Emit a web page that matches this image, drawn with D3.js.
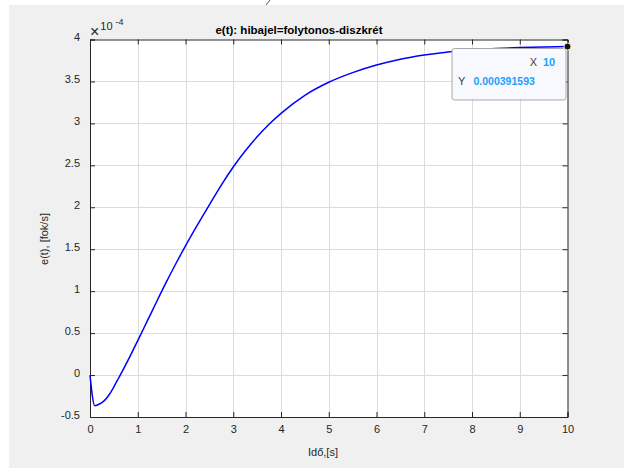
<!DOCTYPE html>
<html>
<head>
<meta charset="utf-8">
<script src="https://cdn.jsdelivr.net/npm/d3@7"></script>
<style>
html,body{margin:0;padding:0;background:#fff;}
svg{display:block;}
text{font-family:"Liberation Sans",Arial,Helvetica,sans-serif;}
</style>
</head>
<body>
<script>
// Data (values in units of 1e-4)
const timeValues = [0, 0.1, 0.2, 0.3, 0.4, 0.5, 0.6, 0.7, 0.8, 0.9, 1.0, 1.2, 1.4, 1.6, 1.8, 2.0, 2.25, 2.5, 2.75, 3.0, 3.25, 3.5, 3.75, 4.0, 4.5, 5.0, 5.5, 6.0, 6.5, 7.0, 7.5, 8.0, 8.5, 9.0, 9.5, 10];
const errorValues = [0, -0.365, -0.345, -0.305, -0.235, -0.14, -0.035, 0.07, 0.18, 0.295, 0.41, 0.645, 0.88, 1.11, 1.33, 1.54, 1.79, 2.03, 2.265, 2.48, 2.67, 2.84, 2.99, 3.12, 3.335, 3.49, 3.605, 3.695, 3.765, 3.815, 3.852, 3.876, 3.893, 3.904, 3.911, 3.91593];
const xTicks = [0,1,2,3,4,5,6,7,8,9,10];
const yTicks = [-0.5,0,0.5,1,1.5,2,2.5,3,3.5,4];
const yTickLabels = ["-0.5","0","0.5","1","1.5","2","2.5","3","3.5","4"];
const titleText = "e(t): hibajel=folytonos-diszkrét";
const xLabelText = "Idő,[s]";
const yLabelText = "e(t), [fok/s]";
const tipX = "10";
const tipY = "0.000391593";

const W = 624, H = 468;
const L = 90, R = 567.5, T = 39.5, B = 417;

const svg = d3.select("body").append("svg").attr("width", W).attr("height", H);
svg.append("rect").attr("x", 9).attr("y", 5).attr("width", W - 9).attr("height", H - 5).attr("fill", "#f0f0f0");

const x = d3.scaleLinear().domain([0, 10]).range([L, R]);
const y = d3.scaleLinear().domain([-0.5, 4]).range([B, T]);

// plot area
svg.append("rect").attr("x", L).attr("y", T).attr("width", R - L).attr("height", B - T).attr("fill", "#fff");

// grid
const grid = svg.append("g");
grid.selectAll(".gx").data(xTicks.slice(1, -1)).enter().append("line")
  .attr("x1", d => Math.round(x(d)) + 0.5).attr("x2", d => Math.round(x(d)) + 0.5)
  .attr("y1", T).attr("y2", B).attr("stroke", "#dcdcdc").attr("stroke-width", 1);
grid.selectAll(".gy").data(yTicks.slice(1, -1)).enter().append("line")
  .attr("y1", d => Math.round(y(d)) + 0.5).attr("y2", d => Math.round(y(d)) + 0.5)
  .attr("x1", L).attr("x2", R).attr("stroke", "#dcdcdc").attr("stroke-width", 1);

// axes
const axisColor = "#262626";
const xb = svg.append("g").attr("transform", `translate(0,${B})`)
  .call(d3.axisBottom(x).tickValues(xTicks).tickSize(-5).tickPadding(8).tickFormat(d3.format("d")));
const xt = svg.append("g").attr("transform", `translate(0,${T})`)
  .call(d3.axisTop(x).tickValues(xTicks).tickSize(-5).tickFormat(""));
const yl = svg.append("g").attr("transform", `translate(${L},0)`)
  .call(d3.axisLeft(y).tickValues(yTicks).tickSize(-5).tickPadding(10).tickFormat((d, i) => yTickLabels[i]));
const yr = svg.append("g").attr("transform", `translate(${R},0)`)
  .call(d3.axisRight(y).tickValues(yTicks).tickSize(-5).tickFormat(""));
[xb, xt, yl, yr].forEach(g => {
  g.select(".domain").attr("stroke", axisColor).attr("stroke-width", 1);
  g.selectAll(".tick line").attr("stroke", axisColor);
  g.selectAll("text").attr("fill", axisColor).attr("font-size", 11)
    .attr("font-family", '"Liberation Sans",Arial,sans-serif');
});
yl.selectAll(".tick text").attr("dy", "0.1em");

// curve
const pts = timeValues.map((t, i) => [t, errorValues[i]]);
svg.append("path").datum(pts)
  .attr("d", d3.line().x(d => x(d[0])).y(d => y(d[1])).curve(d3.curveMonotoneX))
  .attr("fill", "none").attr("stroke", "#0000ff").attr("stroke-width", 1.5);

// exponent label
const ex = svg.append("text").attr("x", 90).attr("y", 37).attr("font-size", 16).attr("fill", axisColor)
  .attr("font-family", '"DejaVu Sans",sans-serif').attr("font-weight", 200);
ex.append("tspan").text("×");
ex.append("tspan").attr("dx", 1).attr("dy", -7).attr("font-size", 11)
  .attr("font-family", '"Liberation Sans",Arial,sans-serif').attr("font-weight", "normal").text("10");
ex.append("tspan").attr("dx", 3).attr("dy", -5).attr("font-size", 9)
  .attr("font-family", '"Liberation Sans",Arial,sans-serif').attr("font-weight", "normal").text("-4");

// title
svg.append("text").attr("x", 299).attr("y", 34).attr("text-anchor", "middle")
  .attr("font-size", 11.5).attr("font-weight", "bold").attr("fill", "#000").text(titleText);

// axis labels
svg.append("text").attr("x", 323).attr("y", 456).attr("text-anchor", "middle")
  .attr("font-size", 11).attr("fill", axisColor).text(xLabelText);
svg.append("text").attr("transform", "translate(48,239) rotate(-90)").attr("text-anchor", "middle")
  .attr("font-size", 11).attr("fill", axisColor).text(yLabelText);

// data tip
const last = pts[pts.length - 1];
svg.append("rect").attr("x", 452).attr("y", 48.5).attr("width", 114).attr("height", 51.5)
  .attr("rx", 2.5).attr("fill", "#f8f8ff").attr("stroke", "#a8a8a8").attr("stroke-width", 1);
svg.append("text").attr("x", 537).attr("y", 66).attr("text-anchor", "end").attr("font-size", 11)
  .attr("fill", "#404040").text("X");
svg.append("text").attr("x", 543).attr("y", 66).attr("font-size", 11).attr("font-weight", "bold")
  .attr("fill", "#1aa0ff").text(tipX);
svg.append("text").attr("x", 458).attr("y", 85).attr("font-size", 11)
  .attr("fill", "#404040").text("Y");
svg.append("text").attr("x", 473.5).attr("y", 85).attr("font-size", 10.5).attr("font-weight", "bold")
  .attr("fill", "#1aa0ff").text(tipY);
svg.append("circle").attr("cx", x(last[0])).attr("cy", y(last[1])).attr("r", 3.5)
  .attr("fill", "#111").attr("stroke", "#f0f0c0").attr("stroke-width", 1);

// small artifact stroke at top
svg.append("line").attr("x1", 270).attr("y1", 0).attr("x2", 266).attr("y2", 5)
  .attr("stroke", "#555").attr("stroke-width", 1);
</script>
</body>
</html>
